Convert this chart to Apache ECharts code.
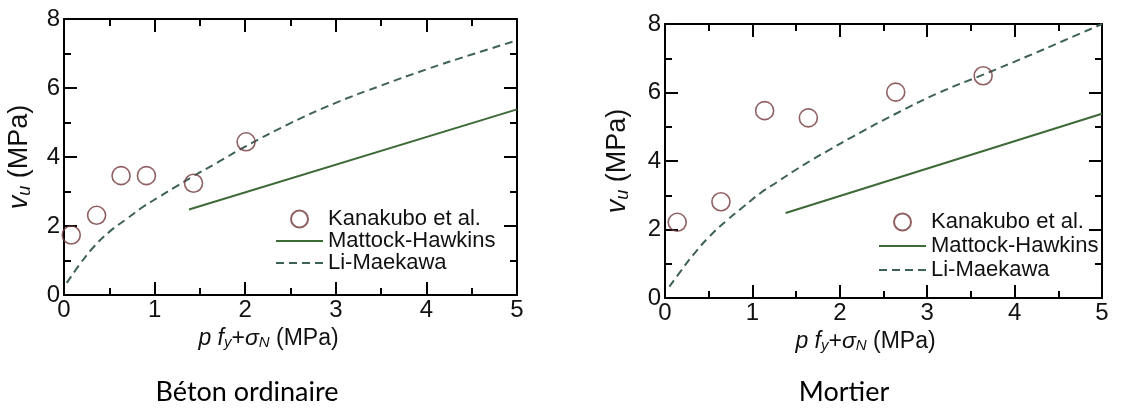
<!DOCTYPE html>
<html>
<head>
<meta charset="utf-8">
<script src="https://cdn.jsdelivr.net/npm/echarts@6/dist/echarts.min.js"></script>
<style>
html,body{margin:0;padding:0;background:#fff;}
#c{width:1130px;height:410px;}
</style>
</head>
<body>
<div id="c"></div>
<script>
// ---- data ----
const xTicks = [0, 1, 2, 3, 4, 5];
const yTicks = [0, 2, 4, 6, 8];

// Béton ordinaire (left panel)
const betonKanakubo = [[0.08,1.74],[0.36,2.31],[0.63,3.46],[0.91,3.46],[1.43,3.24],[2.01,4.44]];
const betonMattock  = [[1.38,2.48],[5.0,5.38]];
const betonLiMaekawa = [[0.03,0.35],[0.18,0.91],[0.32,1.37],[0.5,1.83],[0.7,2.22],[0.87,2.55],[1.06,2.86],[1.24,3.15],[1.43,3.45],[1.7,3.85],[2.0,4.3],[2.5,4.98],[3.0,5.57],[3.5,6.07],[4.0,6.54],[4.5,6.97],[5.0,7.38]];

// Mortier (right panel)
const mortierKanakubo = [[0.14,2.21],[0.64,2.81],[1.14,5.47],[1.64,5.26],[2.64,6.01],[3.64,6.49]];
const mortierMattock  = [[1.38,2.48],[5.0,5.38]];
const mortierLiMaekawa = [[0.05,0.33],[0.17,0.75],[0.32,1.25],[0.51,1.8],[0.71,2.27],[0.9,2.67],[1.09,3.06],[1.28,3.38],[1.47,3.7],[1.66,4.0],[1.85,4.28],[2.14,4.7],[2.64,5.38],[3.14,6.0],[3.64,6.52],[4.14,7.05],[4.56,7.51],[5.0,8.0]];

const seriesNames = ['Kanakubo et al.', 'Mattock-Hawkins', 'Li-Maekawa'];
const captions = ['Béton ordinaire', 'Mortier'];
const xName = '{i|p} {i|f}{s|y}+{i|σ}{s|N} (MPa)';
const yName = '{i|v}{s|u} (MPa)';

// ---- styling ----
const FONT = '"Liberation Sans", Arial, sans-serif';
const C_CIRCLE = '#74393b';
const C_SOLID = '#3d6a37';
const C_DASH = '#3e6257';
const TXT = '#111';

function richName(size) {
  return {
    i: {fontStyle: 'italic', fontSize: size, fontFamily: FONT, color: TXT},
    s: {fontStyle: 'italic', fontSize: Math.round(size * 0.65), fontFamily: FONT, color: TXT, padding: [Math.round(size * 0.4), 0, 0, 0]}
  };
}

function frameParts() {
  return {
    axisLine: {show: true, onZero: false, lineStyle: {color: 'black', width: 2}},
    axisTick: {show: true, inside: true, length: 13, lineStyle: {color: 'black', width: 2}},
    minorTick: {show: true, splitNumber: 2, length: 7, lineStyle: {color: 'black', width: 2}},
    splitLine: {show: false}
  };
}

function xAxes(gi, shift) {
  return [Object.assign({
    type: 'value', gridIndex: gi, min: 0, max: 5, interval: 1, position: 'bottom',
    name: xName, nameLocation: 'middle', nameGap: 26,
    nameTextStyle: {fontSize: 23, fontFamily: FONT, color: TXT, padding: [0, shift, 0, 0], rich: richName(23)},
    axisLabel: {show: true, margin: 3, fontSize: 24, fontFamily: FONT, color: TXT,
      formatter: v => xTicks.includes(v) ? String(v) : ''}
  }, frameParts()), Object.assign({
    type: 'value', gridIndex: gi, min: 0, max: 5, interval: 1, position: 'top',
    axisLabel: {show: false}
  }, frameParts())];
}
function yAxes(gi, gap) {
  return [Object.assign({
    type: 'value', gridIndex: gi, min: 0, max: 8, interval: 2, position: 'left',
    name: yName, nameLocation: 'middle', nameGap: gap,
    nameTextStyle: {fontSize: 27, fontFamily: FONT, color: TXT, rich: richName(27)},
    axisLabel: {show: true, margin: 4, fontSize: 24, fontFamily: FONT, color: TXT,
      formatter: v => yTicks.includes(v) ? String(v) : ''}
  }, frameParts()), Object.assign({
    type: 'value', gridIndex: gi, min: 0, max: 8, interval: 2, position: 'right',
    axisLabel: {show: false}
  }, frameParts())];
}

function panelSeries(xi, yi, kan, mat, li) {
  return [{
    name: seriesNames[0], type: 'scatter', xAxisIndex: xi, yAxisIndex: yi, data: kan,
    symbol: 'circle', symbolSize: 18,
    itemStyle: {color: 'rgba(255,255,255,0)', borderColor: C_CIRCLE, borderWidth: 1.6},
    z: 3
  }, {
    name: seriesNames[1], type: 'line', xAxisIndex: xi, yAxisIndex: yi, data: mat,
    showSymbol: false, symbol: 'none', lineStyle: {color: C_SOLID, width: 2}, itemStyle: {color: C_SOLID}
  }, {
    name: seriesNames[2], type: 'line', xAxisIndex: xi, yAxisIndex: yi, data: li,
    showSymbol: false, symbol: 'none', smooth: 0.45,
    lineStyle: {color: C_DASH, width: 2, type: [8, 5]}, itemStyle: {color: C_DASH}
  }];
}

function legend(left, top, gap) {
  return {
    orient: 'vertical', left: left, top: top, itemWidth: 47, itemHeight: 17, itemGap: gap,
    padding: 0, selectedMode: false,
    data: [
      {name: seriesNames[0]},
      {name: seriesNames[1], itemStyle: {opacity: 0}},
      {name: seriesNames[2], itemStyle: {opacity: 0}}
    ],
    textStyle: {fontSize: 22, fontFamily: FONT, color: TXT, lineHeight: 20}
  };
}

const chart = echarts.init(document.getElementById('c'), null, {renderer: 'canvas'});
chart.setOption({
  animation: false,
  grid: [
    {left: 64, top: 19, width: 453, height: 276},
    {left: 665, top: 24, width: 437, height: 274}
  ],
  xAxis: [...xAxes(0, 44), ...xAxes(1, 36)],
  yAxis: [...yAxes(0, 30), ...yAxes(1, 33)],
  legend: [legend(275, 208, 0), legend(878, 211, 2)],
  series: [
    ...panelSeries(0, 0, betonKanakubo, betonMattock, betonLiMaekawa),
    ...panelSeries(2, 2, mortierKanakubo, mortierMattock, mortierLiMaekawa)
  ],
  graphic: [
    {type: 'text', x: 247, y: 392, style: {text: captions[0], align: 'center', verticalAlign: 'middle', fontSize: 27, fontFamily: 'Lato, "Open Sans", sans-serif', fill: '#000'}},
    {type: 'text', x: 844, y: 392, style: {text: captions[1], align: 'center', verticalAlign: 'middle', fontSize: 27, fontFamily: 'Lato, "Open Sans", sans-serif', fill: '#000'}}
  ]
});
</script>
</body>
</html>
